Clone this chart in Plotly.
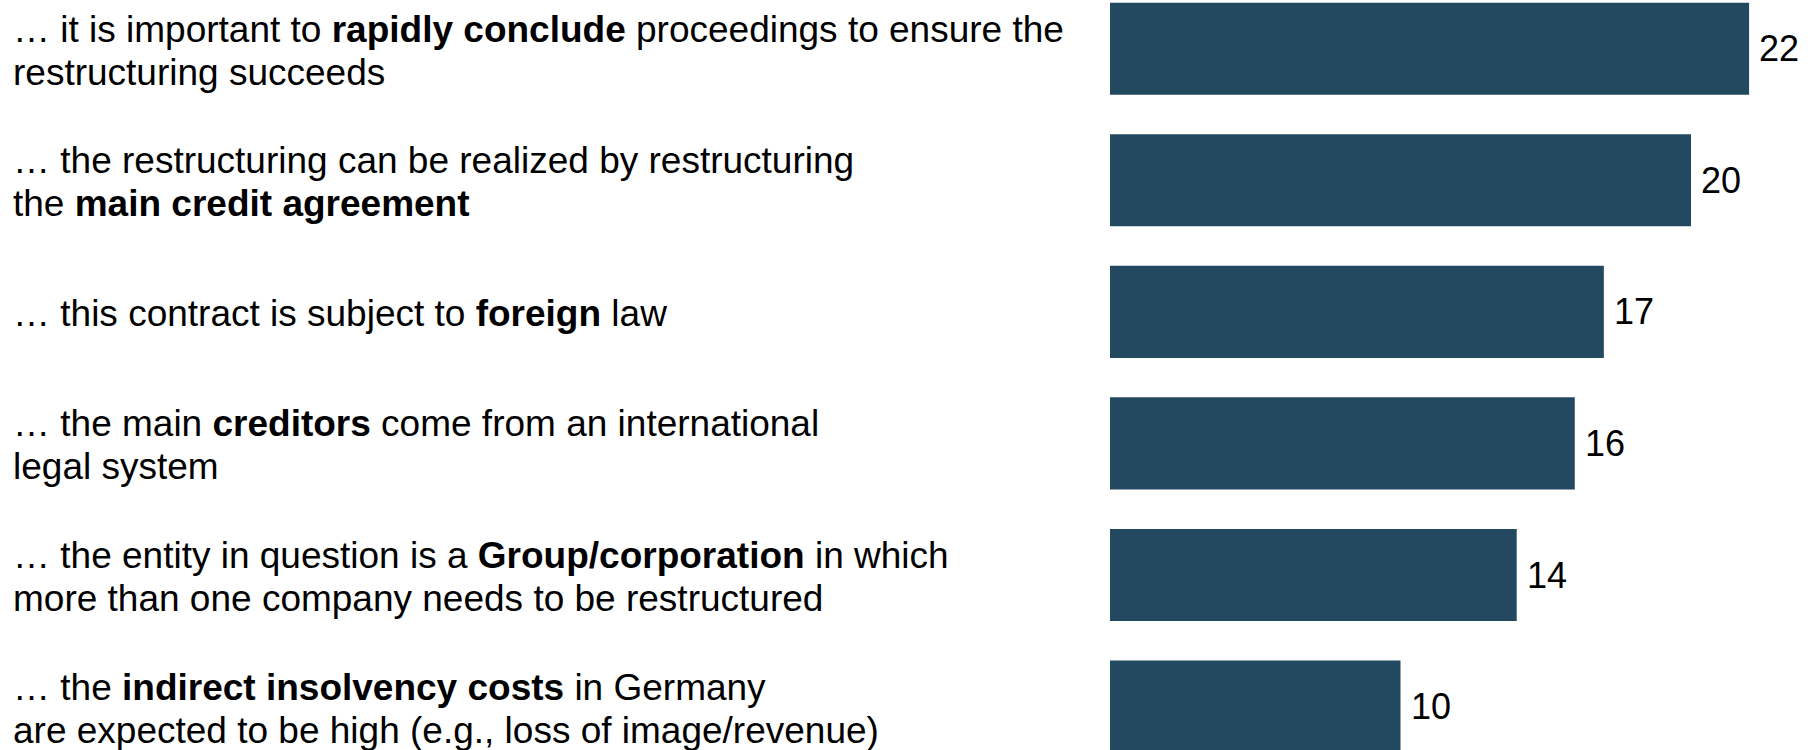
import plotly.graph_objects as go

categories = ["rapidly conclude", "main credit agreement", "foreign law",
              "creditors", "group/corporation", "indirect insolvency costs"]
values = [22, 20, 17, 16, 14, 10]
label_lines = [
    ["… it is important to <b>rapidly conclude</b> proceedings to ensure the",
     "restructuring succeeds"],
    ["… the restructuring can be realized by restructuring",
     "the <b>main credit agreement</b>"],
    ["… this contract is subject to <b>foreign</b> law"],
    ["… the main <b>creditors</b> come from an international",
     "legal system"],
    ["… the entity in question is a <b>Group/corporation</b> in which",
     "more than one company needs to be restructured"],
    ["… the <b>indirect insolvency costs</b> in Germany",
     "are expected to be high (e.g., loss of image/revenue)"],
]

W, H = 1812, 750
L_MARGIN = 1110
FONT = "Liberation Sans, Arial, sans-serif"
BAR_COLOR = "#22495f"

fig = go.Figure(go.Bar(
    x=values, y=categories, orientation="h",
    marker=dict(color=BAR_COLOR, line=dict(width=0)),
    hoverinfo="skip",
))

annotations = []
# value labels
for c, v in zip(categories, values):
    annotations.append(dict(
        x=v, y=c, xref="x", yref="y", text=str(v), showarrow=False,
        xanchor="left", yanchor="middle", xshift=8,
        font=dict(family=FONT, size=36, color="#000000"),
    ))

# left-side category labels, one annotation per line
plot_w = W - L_MARGIN
x_paper = (11 - L_MARGIN) / plot_w
line_gap = 43
for c, lines in zip(categories, label_lines):
    n = len(lines)
    for i, t in enumerate(lines):
        offset = ((n - 1) / 2 - i) * line_gap - 2
        annotations.append(dict(
            x=x_paper, y=c, xref="paper", yref="y", text=t, showarrow=False,
            xanchor="left", yanchor="middle", yshift=offset, align="left",
            font=dict(family=FONT, size=37, color="#000000"),
        ))

fig.update_layout(
    width=W, height=H,
    margin=dict(l=L_MARGIN, r=0, t=0, b=0, pad=0),
    paper_bgcolor="white", plot_bgcolor="white",
    bargap=0.3,
    showlegend=False,
    xaxis=dict(range=[0, plot_w / 29.05], visible=False, fixedrange=True),
    yaxis=dict(type="category", range=[5.33, -0.37], visible=False,
               fixedrange=True),
    annotations=annotations,
)

fig.write_html(
    "out.html",
    config={"displayModeBar": False},
    post_script="document.body.style.margin='0';document.body.style.overflow='hidden';",
)
